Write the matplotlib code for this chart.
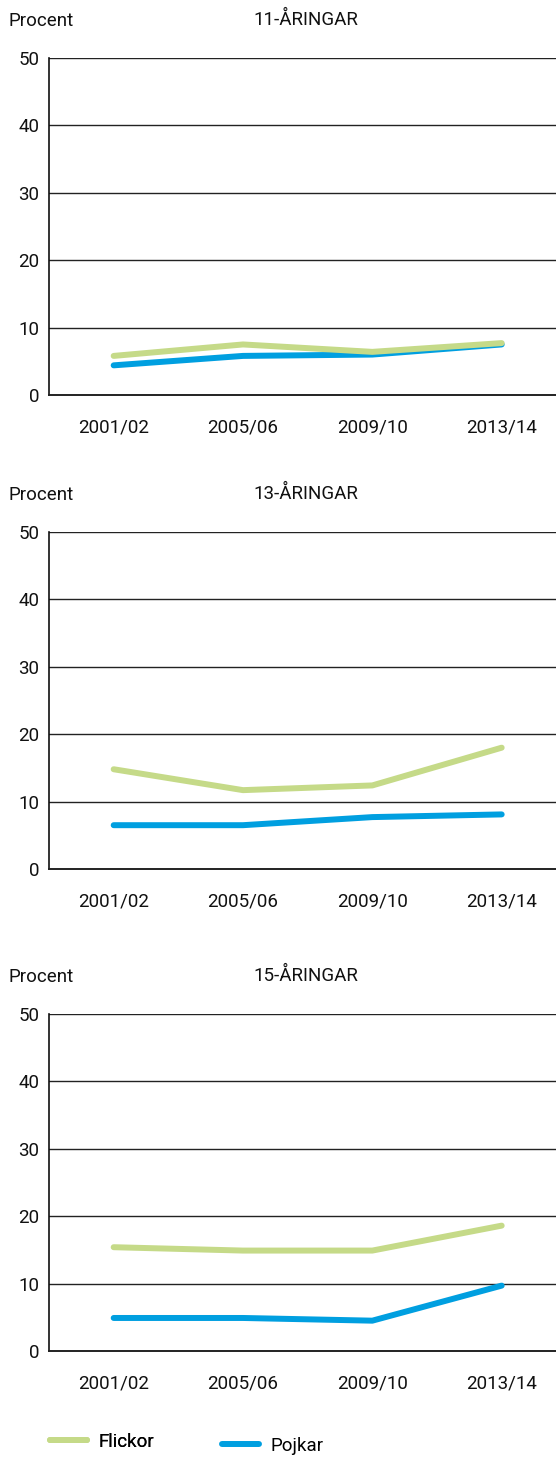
import matplotlib
matplotlib.use('Agg')
import matplotlib.pyplot as plt
from matplotlib.lines import Line2D

plt.rcParams['font.family'] = ['Roboto', 'DejaVu Sans']

years = ['2001/02', '2005/06', '2009/10', '2013/14']
titles = ['11-ÅRINGAR', '13-ÅRINGAR', '15-ÅRINGAR']
flickor = [
    [5.8, 7.5, 6.4, 7.7],
    [14.8, 11.7, 12.4, 18.0],
    [15.4, 14.9, 14.9, 18.6],
]
pojkar = [
    [4.4, 5.8, 6.0, 7.5],
    [6.5, 6.5, 7.7, 8.1],
    [4.9, 4.9, 4.5, 9.7],
]

green = '#c5da88'
blue = '#009fe0'
fs = 13.5

W, H = 556, 1459
fig = plt.figure(figsize=(W / 100, H / 100), dpi=100)

tops = [58, 532, 1014]   # pixel top of each panel
ax_h = 337
left = 49

x = range(len(years))
for i in range(3):
    top = tops[i]
    ax = fig.add_axes([left / W, 1 - (top + ax_h) / H, (W - left) / W, ax_h / H])
    ax.plot(x, pojkar[i], color=blue, lw=4.3, solid_capstyle='round', zorder=3)
    ax.plot(x, flickor[i], color=green, lw=4.3, solid_capstyle='round', zorder=4)
    ax.set_ylim(0, 50)
    ax.set_xlim(-0.5, 3.42)
    ax.set_yticks([0, 10, 20, 30, 40, 50])
    ax.set_xticks(list(x))
    ax.set_xticklabels(years)
    for y in [10, 20, 30, 40, 50]:
        ax.axhline(y, color='#222222', lw=1.0, zorder=1)
    for s in ['top', 'right']:
        ax.spines[s].set_visible(False)
    ax.spines['left'].set_color('#111111')
    ax.spines['bottom'].set_color('#222222')
    ax.spines['left'].set_linewidth(1.2)
    ax.spines['bottom'].set_linewidth(1.4)
    ax.tick_params(axis='both', length=0, labelsize=fs, colors='#111111')
    ax.tick_params(axis='y', pad=7)
    ax.tick_params(axis='x', pad=17)
    fig.text(8 / W, 1 - (top - 37) / H, 'Procent', fontsize=fs, color='#111111',
             ha='left', va='center')
    fig.text(306 / W, 1 - (top - 38) / H, titles[i], fontsize=fs, color='#111111',
             ha='center', va='center')

leg1 = fig.legend([Line2D([], [], color=green, lw=4.3, solid_capstyle='round')],
                  ['Flickor'], loc='center left', bbox_to_anchor=(33 / W, 1 - 1442 / H),
                  frameon=False, fontsize=fs, handlelength=2.0, handletextpad=0.6)
leg2 = fig.legend([Line2D([], [], color=blue, lw=4.3, solid_capstyle='round')],
                  ['Pojkar'], loc='center left', bbox_to_anchor=(205 / W, 1 - 1446 / H),
                  frameon=False, fontsize=fs, handlelength=2.0, handletextpad=0.6)
fig.add_artist(leg1)

fig.savefig('out.png', dpi=100)
